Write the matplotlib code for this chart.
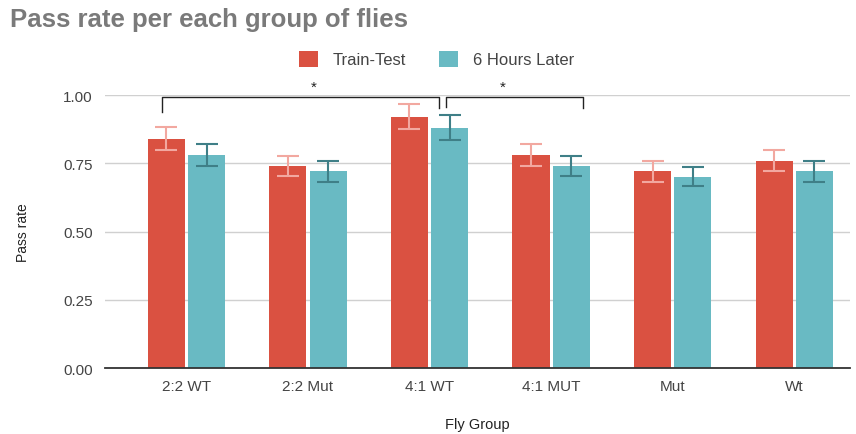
import numpy as np
import matplotlib
matplotlib.use("Agg")
import matplotlib.pyplot as plt

# data
groups = ["2:2 WT", "2:2 Mut", "4:1 WT", "4:1 MUT", "Mut", "Wt"]
train_test = [0.84, 0.74, 0.92, 0.78, 0.72, 0.76]
train_err = [0.041, 0.037, 0.046, 0.040, 0.037, 0.038]
later = [0.78, 0.72, 0.88, 0.74, 0.70, 0.72]
later_err = [0.039, 0.037, 0.045, 0.037, 0.035, 0.037]
series_names = ["Train-Test", "6 Hours Later"]

red = "#da5141"
teal = "#69bac3"

plt.rcParams["font.family"] = ["Liberation Sans", "DejaVu Sans"]

fig = plt.figure(figsize=(8.56, 4.35), dpi=100)
ax = fig.add_axes([0.1227, 0.1517, 0.8703, 0.6276])

x = np.arange(len(groups))
w = 0.305
off = 0.165

ax.bar(x - off, train_test, w, color=red, label=series_names[0], zorder=2)
ax.bar(x + off, later, w, color=teal, label=series_names[1], zorder=2)
ax.errorbar(x - off, train_test, yerr=train_err, fmt="none", ecolor="#f2a8a0",
            elinewidth=1.5, capsize=8, capthick=1.5, zorder=3)
ax.errorbar(x + off, later, yerr=later_err, fmt="none", ecolor="#3f7f87",
            elinewidth=1.5, capsize=8, capthick=1.5, zorder=3)

# significance brackets
ax.plot([-0.20, -0.20, 2.078, 2.078], [0.938, 0.994, 0.994, 0.952],
        color="#222222", lw=1, clip_on=False, zorder=4)
ax.plot([2.133, 2.133, 3.266, 3.266], [0.956, 0.994, 0.994, 0.952],
        color="#222222", lw=1, clip_on=False, zorder=4)
ax.text(1.05, 1.005, "*", ha="center", va="bottom", fontsize=11, color="#222222")
ax.text(2.60, 1.005, "*", ha="center", va="bottom", fontsize=11, color="#222222")

ax.set_xlim(-0.67, 5.46)
ax.set_ylim(0, 1.0)
ax.set_yticks([0, 0.25, 0.5, 0.75, 1.0])
ax.set_yticklabels(["0.00", "0.25", "0.50", "0.75", "1.00"])
ax.set_xticks(x)
ax.set_xticklabels(groups)
ax.tick_params(axis="both", length=0, labelsize=11, labelcolor="#444444")
ax.tick_params(axis="y", pad=9)
ax.tick_params(axis="x", pad=8)
ax.grid(axis="y", color="#d0d0d0", lw=1, zorder=0)
ax.set_axisbelow(True)
for s in ["top", "right", "left"]:
    ax.spines[s].set_visible(False)
ax.spines["bottom"].set_color("#333333")
ax.spines["bottom"].set_linewidth(1.3)

ax.set_ylabel("Pass rate", fontsize=10, color="#222222", labelpad=24)
ax.set_xlabel("Fly Group", fontsize=10.5, color="#222222", labelpad=17)

fig.text(0.012, 0.953, "Pass rate per each group of flies", fontsize=18.5,
         fontweight="bold", color="#7a7a7a", va="center", ha="left")

fig.legend(loc="center", bbox_to_anchor=(0.51, 0.862), ncol=2, frameon=False,
           fontsize=12, handlelength=1.1, handleheight=1.1, columnspacing=2.0,
           handletextpad=0.9, labelcolor="#444444")

fig.savefig("out.png", dpi=100)
